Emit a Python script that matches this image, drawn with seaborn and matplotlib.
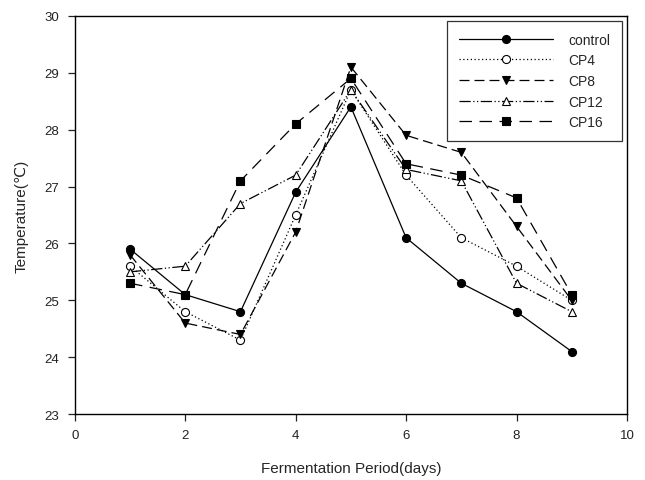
import pandas as pd
import matplotlib.pyplot as plt
import seaborn as sns

# days of fermentation
days = [1, 2, 3, 4, 5, 6, 7, 8, 9]

# temperature readings per treatment
control = [25.9, 25.1, 24.8, 26.9, 28.4, 26.1, 25.3, 24.8, 24.1]
cp4 = [25.6, 24.8, 24.3, 26.5, 28.7, 27.2, 26.1, 25.6, 25.0]
cp8 = [25.8, 24.6, 24.4, 26.2, 29.1, 27.9, 27.6, 26.3, 25.0]
cp12 = [25.5, 25.6, 26.7, 27.2, 28.7, 27.3, 27.1, 25.3, 24.8]
cp16 = [25.3, 25.1, 27.1, 28.1, 28.9, 27.4, 27.2, 26.8, 25.1]

names = ['control', 'CP4', 'CP8', 'CP12', 'CP16']
values = [control, cp4, cp8, cp12, cp16]

df = pd.DataFrame({'day': days * len(names),
                   'temp': sum(values, []),
                   'group': [n for n in names for _ in days]})

# line / marker look for each series
styles = {
    'control': dict(linestyle='-', marker='o', mfc='black'),
    'CP4': dict(linestyle=(0, (1, 2)), marker='o', mfc='white'),
    'CP8': dict(linestyle=(0, (8, 4)), marker='v', mfc='black'),
    'CP12': dict(linestyle=(0, (9, 2, 1, 2, 1, 2)), marker='^', mfc='white'),
    'CP16': dict(linestyle=(0, (10, 6)), marker='s', mfc='black'),
}

sns.set_style('ticks')
plt.rcParams['font.family'] = ['Liberation Sans', 'DejaVu Sans']

fig = plt.figure(figsize=(6.45, 4.81), dpi=100)
ax = fig.add_axes([0.116, 0.137, 0.856, 0.828])

for name in names:
    sub = df[df['group'] == name]
    sns.lineplot(data=sub, x='day', y='temp', ax=ax, color='black', lw=0.9,
                 markersize=5.8, mec='black', mew=0.8, label=name,
                 **styles[name])

ax.set_xlim(0, 10)
ax.set_ylim(23, 30)
ax.set_xticks(range(0, 11, 2))
ax.set_yticks(range(23, 31))
ax.tick_params(direction='out', length=5, width=0.9, pad=6, labelsize=9.5,
               colors='#222222')
for s in ax.spines.values():
    s.set_linewidth(1.0)
    s.set_color('black')
ax.set_xlabel('Fermentation Period(days)', fontsize=11, labelpad=14)
ax.set_ylabel('Temperature(\u2103)', fontsize=11, labelpad=12)

leg = ax.legend(loc='upper right', handlelength=6.8, fontsize=10,
                frameon=True, fancybox=False, edgecolor='black',
                borderpad=0.85, labelspacing=0.48, handletextpad=1.1,
                borderaxespad=0.35)
leg.get_frame().set_linewidth(0.9)

fig.savefig('out.png', dpi=100)
plt.close()
